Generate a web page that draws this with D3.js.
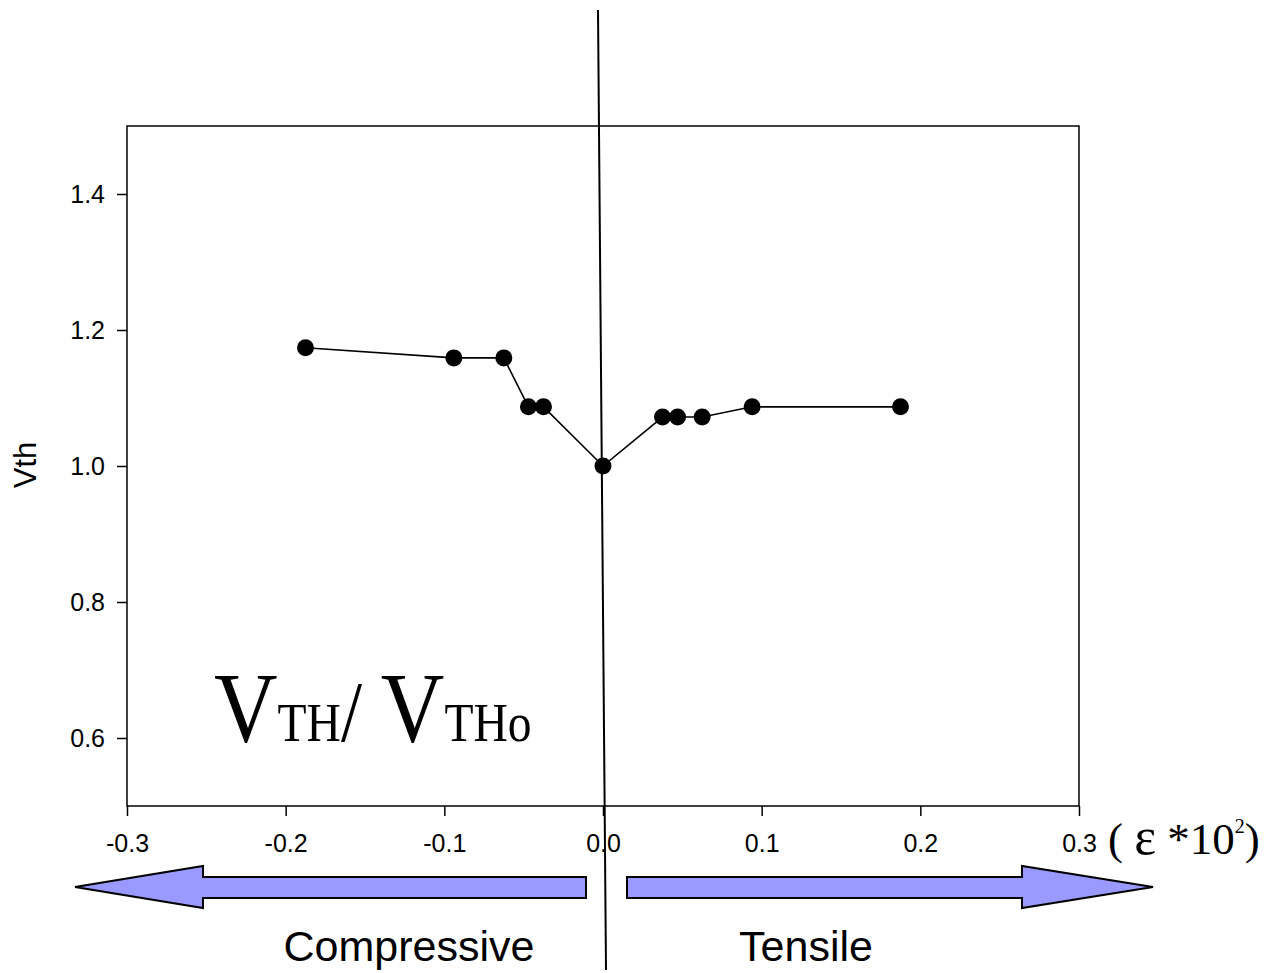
<!DOCTYPE html>
<html>
<head>
<meta charset="utf-8">
<script src="https://cdn.jsdelivr.net/npm/d3@7"></script>
<style>
  body { margin: 0; background: #fff; }
  svg { display: block; }
</style>
</head>
<body>
<svg id="chart"></svg>
<script>
let w = 1284
let h = 973

// strain (ε*10^2) and normalised threshold voltage
let strain = [-0.1875, -0.094, -0.0625, -0.047, -0.0375, 0, 0.0375, 0.047, 0.0625, 0.094, 0.1875]
let vth = [1.174, 1.159, 1.159, 1.087, 1.087, 1.0, 1.072, 1.072, 1.072, 1.087, 1.087]

let xTicks = [-0.3, -0.2, -0.1, 0.0, 0.1, 0.2, 0.3]
let yTicks = [0.6, 0.8, 1.0, 1.2, 1.4]

let pLeft = 127, pTop = 126, pRight = 1079, pBottom = 806

let svg = d3.select('#chart')
  .attr('width', w)
  .attr('height', h)

let x = d3.scaleLinear().domain([-0.3, 0.3]).range([pLeft, pRight])
let y = d3.scaleLinear().domain([0.5, 1.5]).range([pBottom, pTop])

let fmt = d => d.toFixed(1)

// frame
svg.append('rect')
  .attr('x', pLeft)
  .attr('y', pTop)
  .attr('width', pRight - pLeft)
  .attr('height', pBottom - pTop)
  .attr('fill', 'none')
  .attr('stroke', '#000')
  .attr('stroke-width', 1.5)

let xAxis = svg.append('g')
  .attr('transform', `translate(0,${pBottom})`)
  .call(d3.axisBottom(x).tickValues(xTicks).tickFormat(fmt).tickSize(10).tickPadding(18))

let yAxis = svg.append('g')
  .attr('transform', `translate(${pLeft},0)`)
  .call(d3.axisLeft(y).tickValues(yTicks).tickFormat(fmt).tickSize(10).tickPadding(12))

svg.selectAll('.domain').remove()
svg.selectAll('.tick line').attr('stroke', '#000').attr('stroke-width', 1.5)
svg.selectAll('.tick text')
  .attr('fill', '#000')
  .style('font-family', 'Liberation Sans, Arial, sans-serif')
  .style('font-size', '25px')

yAxis.selectAll('.tick text').attr('dy', '0.34em')

// y label
svg.append('text')
  .attr('transform', 'translate(36,465) rotate(-90)')
  .attr('text-anchor', 'middle')
  .style('font-family', 'Liberation Sans, Arial, sans-serif')
  .style('font-size', '31px')
  .text('Vth')

// data line and points
let pts = strain.map((s, i) => [s, vth[i]])

svg.append('path')
  .datum(pts)
  .attr('d', d3.line().x(d => x(d[0])).y(d => y(d[1])))
  .attr('fill', 'none')
  .attr('stroke', '#000')
  .attr('stroke-width', 1.6)

svg.selectAll('circle.pt')
  .data(pts)
  .join('circle')
  .attr('class', 'pt')
  .attr('cx', d => x(d[0]))
  .attr('cy', d => y(d[1]))
  .attr('r', 8.5)
  .attr('fill', '#000')

// slanted vertical divider
svg.append('line')
  .attr('x1', 598).attr('y1', 10)
  .attr('x2', 606).attr('y2', 970)
  .attr('stroke', '#000')
  .attr('stroke-width', 2)

// arrows
let arrowColor = '#9999ff'
let leftArrow = [[75, 887], [203, 866], [203, 877], [586, 877], [586, 898], [203, 898], [203, 908]]
let rightArrow = [[1153, 887], [1022, 866], [1022, 877], [627, 877], [627, 898], [1022, 898], [1022, 908]]

svg.selectAll('polygon.arrow')
  .data([leftArrow, rightArrow])
  .join('polygon')
  .attr('class', 'arrow')
  .attr('points', d => d.map(p => p.join(',')).join(' '))
  .attr('fill', arrowColor)
  .attr('stroke', '#000')
  .attr('stroke-width', 2)
  .attr('stroke-linejoin', 'miter')

svg.append('text')
  .attr('x', 409).attr('y', 961)
  .attr('text-anchor', 'middle')
  .style('font-family', 'Liberation Sans, Arial, sans-serif')
  .style('font-size', '43px')
  .text('Compressive')

svg.append('text')
  .attr('x', 806).attr('y', 961)
  .attr('text-anchor', 'middle')
  .style('font-family', 'Liberation Sans, Arial, sans-serif')
  .style('font-size', '43px')
  .text('Tensile')

// x unit
let unit = svg.append('text')
  .attr('x', 1108).attr('y', 854)
  .style('font-family', 'Liberation Serif, Times New Roman, serif')
  .style('font-size', '45px')
unit.append('tspan').text('( ')
unit.append('tspan').text('ε').style('font-size', '52px')
unit.append('tspan').text(' *10')
unit.append('tspan').text('2').attr('dy', -21).style('font-size', '20px')
unit.append('tspan').text(')').attr('dy', 21)

// big label VTH / VTHo
let big = svg.append('text')
  .attr('transform', 'translate(214,741) scale(0.88,1)')
  .style('font-family', 'Liberation Serif, Times New Roman, serif')
big.append('tspan').text('V').style('font-size', '100px')
big.append('tspan').text('TH').style('font-size', '54px')
big.append('tspan').text('/ ').style('font-size', '86px')
big.append('tspan').text('V').style('font-size', '100px')
big.append('tspan').text('THo').style('font-size', '54px')
</script>
</body>
</html>
